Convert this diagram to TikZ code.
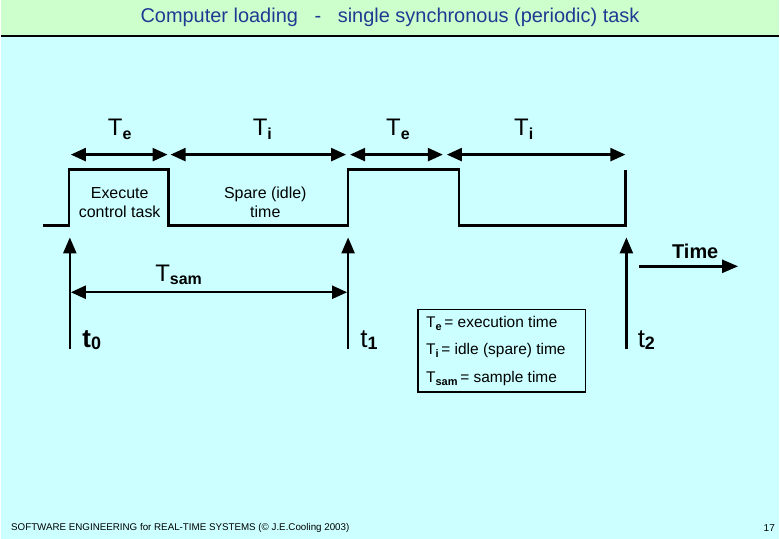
\documentclass[tikz,border=0pt]{standalone}
\usepackage{fontspec}
\setmainfont{Liberation Sans}
\usetikzlibrary{arrows.meta}
\definecolor{bgcyan}{HTML}{CCFFFF}
\definecolor{titlebg}{HTML}{CCFFCC}
\definecolor{titleblue}{HTML}{1F3A93}
\newcommand{\fsz}[1]{\fontsize{#1}{#1}\selectfont}
\newcommand{\TT}[3]{{\fsz{#1}T}\raisebox{-0.35em}{\fsz{#2}\bfseries #3}}
\begin{document}
\begin{tikzpicture}[x=1pt,y=-1pt,
  wave/.style={line width=2.4pt, line join=miter},
  dim/.style={line width=2.4pt, {Triangle[length=15pt,width=13pt]}-{Triangle[length=15pt,width=13pt]}},
  uparrow/.style={line width=2.4pt, -{Triangle[length=16pt,width=13pt]}},
  lbl/.style={inner sep=0pt, anchor=base},
  inlbl/.style={inner sep=0pt, align=center, font=\fontsize{16}{19}\selectfont}]
\fill[bgcyan] (0,0) rectangle (780,540);
\fill[titlebg] (0,0) rectangle (780,36);
\draw[line width=2pt] (0,36) -- (780,36);
\useasboundingbox (0,0) rectangle (780,540);

\node[inner sep=0pt, text=titleblue, font=\fsz{20}] (title) at (390,17) {Computer loading\ \ \ -\ \ \ single synchronous (periodic) task};

% waveform
\coordinate (w0) at (42,226);
\coordinate (w1) at (68,226);
\coordinate (w2) at (68,170);
\coordinate (w3) at (168,170);
\coordinate (w4) at (168,226);
\coordinate (w5) at (348,226);
\coordinate (w6) at (348,170);
\coordinate (w7) at (459,170);
\coordinate (w8) at (459,226);
\coordinate (w9) at (626,226);
\coordinate (w10) at (626,170);
\draw[wave] (w0) -- (w1) -- (w2) -- (w3) -- (w4) -- (w5) -- (w6) -- (w7) -- (w8) -- (w9) -- (w10);

\node[inlbl] (exec) at (119,203) {Execute\\control task};
\node[inlbl] (spare) at (265,203) {Spare (idle)\\time};

% top dimension arrows
\coordinate (a0) at (70,155);
\coordinate (a1) at (167,155);
\coordinate (a2) at (170,155);
\coordinate (a3) at (346,155);
\coordinate (a4) at (350,155);
\coordinate (a5) at (443,155);
\coordinate (a6) at (447,155);
\coordinate (a7) at (626,155);
\draw[dim] (a0) -- (a1);
\draw[dim] (a2) -- (a3);
\draw[dim] (a4) -- (a5);
\draw[dim] (a6) -- (a7);

\node[lbl] (te1) at (119,136) {\TT{24}{16}{e}};
\node[lbl] (ti1) at (262,136) {\TT{24}{16}{i}};
\node[lbl] (te2) at (398,136) {\TT{24}{16}{e}};
\node[lbl] (ti2) at (524,136) {\TT{24}{16}{i}};

% sample instants
\coordinate (p0) at (69,350);
\coordinate (q0) at (69,238);
\coordinate (p1) at (348,350);
\coordinate (q1) at (348,238);
\coordinate (p2) at (627,350);
\coordinate (q2) at (627,238);
\draw[uparrow] (p0) -- (q0);
\draw[uparrow] (p1) -- (q1);
\draw[uparrow] (p2) -- (q2);

\coordinate (s0) at (70,293);
\coordinate (s1) at (347,293);
\draw[dim] (s0) -- (s1);
\node[lbl] (tsam) at (178,282) {\TT{24}{16}{sam}};

\node[lbl] (t0) at (91,348) {{\fsz{26}\bfseries t}\raisebox{-0.22em}{\fsz{18}\bfseries 0}};
\node[lbl] (t1) at (369,348) {{\fsz{26}t}\raisebox{-0.22em}{\fsz{18}\bfseries 1}};
\node[lbl] (t2) at (647,348) {{\fsz{26}t}\raisebox{-0.22em}{\fsz{18}\bfseries 2}};

% time arrow
\coordinate (ta) at (640,267);
\coordinate (tb) at (739,267);
\draw[uparrow] (ta) -- (tb);
\node[lbl, font=\fsz{20}\bfseries] (time) at (696,259) {Time};

% legend
\node[draw, line width=1.2pt, fill=bgcyan, minimum width=168pt, minimum height=83pt, inner sep=0pt] (legend) at (502,351.5) {};
\node[anchor=base west, inner sep=0pt] (lg1) at (426,328) {\TT{15.5}{11}{e} {\fsz{15.5}= execution time}};
\node[anchor=base west, inner sep=0pt] (lg2) at (426,355) {\TT{15.5}{11}{i} {\fsz{15.5}= idle (spare) time}};
\node[anchor=base west, inner sep=0pt] (lg3) at (426,383) {\TT{15.5}{11}{sam} {\fsz{15.5}= sample time}};

% footer
\node[anchor=base west, inner sep=0pt, font=\fsz{9.8}] (footer) at (10,532) {SOFTWARE ENGINEERING for REAL-TIME SYSTEMS (\copyright\ J.E.Cooling 2003)};
\node[anchor=base east, inner sep=0pt, font=\fsz{10}] (page) at (776,533) {17};
\end{tikzpicture}
\end{document}
